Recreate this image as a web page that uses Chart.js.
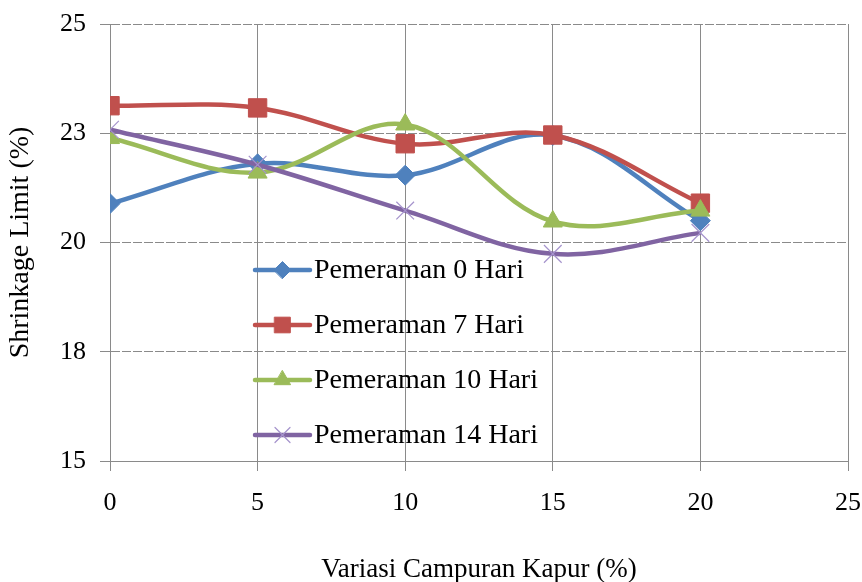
<!DOCTYPE html>
<html>
<head>
<meta charset="utf-8">
<script src="https://cdn.jsdelivr.net/npm/chart.js@4/dist/chart.umd.min.js"></script>
<style>
  html, body { margin: 0; padding: 0; background: #ffffff; }
  canvas { display: block; }
</style>
</head>
<body>
<canvas id="chart" width="862" height="582"></canvas>
<script>
// Lime content (% of mix) on the horizontal axis
const kapur = [0, 5, 10, 15, 20];

// Shrinkage limit (%) per curing time
const pemeraman0 = [20.89, 21.80, 21.54, 22.45, 20.50];
const pemeraman7 = [23.13, 23.08, 22.26, 22.46, 20.90];
const pemeraman10 = [22.39, 21.60, 22.70, 20.48, 20.73];
const pemeraman14 = [22.58, 21.78, 20.73, 19.74, 20.22];

const seriesNames = ['Pemeraman 0 Hari', 'Pemeraman 7 Hari', 'Pemeraman 10 Hari', 'Pemeraman 14 Hari'];

// Axis ticks
const xTickValues = [0, 5, 10, 15, 20, 25];
const xTickLabels = ['0', '5', '10', '15', '20', '25'];
const yTickValues = [15, 17.5, 20, 22.5, 25];
const yTickLabels = ['15', '18', '20', '23', '25'];

const FONT = "'Liberation Serif', 'Times New Roman', serif";
const GRID = '#8a8a8a';

const styles = [
  { color: '#4F81BD', point: 'rectRot', radius: 10, pointBorder: '#4F81BD', pbw: 1 },
  { color: '#C0504D', point: 'rect', radius: 13, pointBorder: '#C0504D', pbw: 1 },
  { color: '#9BBB59', point: 'triangle', radius: 11, pointBorder: '#9BBB59', pbw: 1 },
  { color: '#8064A2', point: 'crossRot', radius: 12.5, pointBorder: '#A593CC', pbw: 1.2 }
];

const seriesValues = [pemeraman0, pemeraman7, pemeraman10, pemeraman14];

const datasets = seriesValues.map((vals, i) => ({
  label: seriesNames[i],
  data: kapur.map((x, j) => ({ x: x, y: vals[j] })),
  borderColor: styles[i].color,
  backgroundColor: styles[i].color,
  borderWidth: 4.5,
  tension: 0.36,
  pointStyle: styles[i].point,
  pointRadius: styles[i].radius,
  pointHoverRadius: styles[i].radius,
  pointBackgroundColor: styles[i].color,
  pointBorderColor: styles[i].pointBorder,
  pointBorderWidth: styles[i].pbw,
  order: seriesValues.length - i
}));

// Legend drawn inside the plot area
const innerLegend = {
  id: 'innerLegend',
  afterDatasetsDraw(chart) {
    const ctx = chart.ctx;
    const area = chart.chartArea;
    const x0 = area.left + 145;
    const lineLen = 55;
    const rowTop = area.top + 246;
    const rowGap = 55;
    ctx.save();
    chart.data.datasets.forEach((ds, i) => {
      const y = rowTop + i * rowGap;
      ctx.strokeStyle = ds.borderColor;
      ctx.lineWidth = 4.5;
      ctx.lineCap = 'round';
      ctx.beginPath();
      ctx.moveTo(x0, y);
      ctx.lineTo(x0 + lineLen, y);
      ctx.stroke();
      ctx.fillStyle = ds.pointBackgroundColor;
      ctx.strokeStyle = ds.pointBorderColor;
      ctx.lineWidth = ds.pointBorderWidth;
      Chart.helpers.drawPoint(ctx, {
        pointStyle: ds.pointStyle,
        radius: ds.pointRadius * 0.85,
        rotation: 0,
        borderWidth: ds.pointBorderWidth
      }, x0 + lineLen / 2, y);
      ctx.fillStyle = '#000000';
      ctx.font = '28px ' + FONT;
      ctx.textAlign = 'left';
      ctx.textBaseline = 'middle';
      ctx.fillText(ds.label, x0 + lineLen + 4, y + 1);
    });
    ctx.restore();
  }
};

new Chart(document.getElementById('chart'), {
  type: 'line',
  data: { datasets: datasets },
  plugins: [innerLegend],
  options: {
    responsive: false,
    animation: false,
    events: [],
    layout: { padding: { top: 24, right: 0, left: 0, bottom: 0 } },
    plugins: { legend: { display: false }, tooltip: { enabled: false } },
    scales: {
      x: {
        type: 'linear',
        min: 0,
        max: 25,
        afterBuildTicks(scale) { scale.ticks = xTickValues.map(v => ({ value: v })); },
        afterFit(scale) {
          scale.height = 121;
          scale.paddingLeft = 0;
          scale.paddingRight = 14;
        },
        ticks: {
          color: '#000000',
          font: { family: FONT, size: 26 },
          padding: 17,
          maxRotation: 0,
          callback: (v, idx) => xTickLabels[idx]
        },
        grid: { color: GRID, lineWidth: 1, tickLength: 10, drawTicks: true },
        border: { display: true, color: GRID, width: 1 },
        title: {
          display: true,
          text: 'Variasi Campuran Kapur (%)',
          color: '#000000',
          font: { family: FONT, size: 27 },
          padding: { top: 0, bottom: -4 }
        }
      },
      y: {
        type: 'linear',
        min: 15,
        max: 25,
        afterBuildTicks(scale) { scale.ticks = yTickValues.map(v => ({ value: v })); },
        afterFit(scale) {
          scale.width = 110;
          scale.paddingTop = 0;
          scale.paddingBottom = 0;
        },
        ticks: {
          color: '#000000',
          font: { family: FONT, size: 26 },
          padding: 14,
          callback: (v, idx) => yTickLabels[idx]
        },
        grid: { color: GRID, lineWidth: 1, tickLength: 10, drawTicks: true },
        border: { display: true, color: GRID, width: 1, dash: [9, 2] },
        title: {
          display: true,
          text: 'Shrinkage Limit (%)',
          color: '#000000',
          font: { family: FONT, size: 28 },
          padding: { top: 4, bottom: 0 }
        }
      }
    }
  }
});
</script>
</body>
</html>
